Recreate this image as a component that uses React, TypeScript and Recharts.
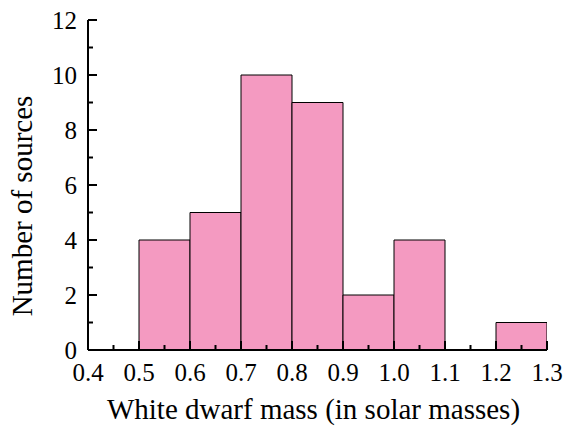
import { Bar, ComposedChart, Label, XAxis, YAxis } from "recharts"

const binCenters = [0.55, 0.65, 0.75, 0.85, 0.95, 1.05, 1.15, 1.25]
const sourceCounts = [4, 5, 10, 9, 2, 4, 0, 1]

const xTicks = [
  0.4, 0.45, 0.5, 0.55, 0.6, 0.65, 0.7, 0.75, 0.8, 0.85, 0.9, 0.95, 1.0, 1.05,
  1.1, 1.15, 1.2, 1.25, 1.3,
]
const yTicks = [0, 1, 2, 3, 4, 5, 6, 7, 8, 9, 10, 11, 12]

const xTitle = "White dwarf mass (in solar masses)"
const yTitle = "Number of sources"

const data = binCenters.map((mass, i) => ({ mass, count: sourceCounts[i] }))

const FONT = "'Liberation Serif', 'Times New Roman', serif"
const MAJOR = 9
const MINOR = 5

const BottomTick = (props: any) => {
  const { x, y, index, payload } = props
  const major = index % 2 === 0
  return (
    <g>
      <line x1={x} x2={x} y1={y} y2={y - (major ? MAJOR : MINOR)} stroke="#000" strokeWidth={2} />
      {major && (
        <text x={x} y={y + 31} textAnchor="middle" fontSize={25} fontFamily={FONT} fill="#000">
          {payload.value.toFixed(1)}
        </text>
      )}
    </g>
  )
}

const TopTick = (props: any) => {
  const { x, y, index } = props
  const major = index % 2 === 0
  return <line x1={x} x2={x} y1={y} y2={y + (major ? MAJOR : MINOR)} stroke="#000" strokeWidth={2} />
}

const LeftTick = (props: any) => {
  const { x, y, index, payload } = props
  const major = index % 2 === 0
  return (
    <g>
      <line x1={x} x2={x + (major ? MAJOR : MINOR)} y1={y} y2={y} stroke="#000" strokeWidth={2} />
      {major && (
        <text x={x - 11} y={y + 9} textAnchor="end" fontSize={25} fontFamily={FONT} fill="#000">
          {payload.value}
        </text>
      )}
    </g>
  )
}

const RightTick = (props: any) => {
  const { x, y, index } = props
  const major = index % 2 === 0
  return <line x1={x} x2={x - (major ? MAJOR : MINOR)} y1={y} y2={y} stroke="#000" strokeWidth={2} />
}

const axisLine = { stroke: "#000", strokeWidth: 2 }

export default function App() {
  return (
    <div>
      <style>{"body{margin:0}"}</style>
      <ComposedChart
        width={575}
        height={429}
        data={data}
        margin={{ top: 20, right: 28, bottom: 0, left: 0 }}
        barCategoryGap={0}
        barGap={0}
      >
        <Bar
          dataKey="count"
          fill="#f49ac1"
          stroke="#000"
          strokeWidth={1}
          isAnimationActive={false}
        />
        <XAxis
          dataKey="mass"
          type="number"
          domain={[0.4, 1.3]}
          ticks={xTicks}
          interval={0}
          height={79}
          tickSize={0}
          tickMargin={0}
          tickLine={false}
          axisLine={axisLine}
          tick={BottomTick}
          allowDataOverflow
        >
          <Label
            content={() => (
              <text x={313.5} y={419} textAnchor="middle" fontSize={29} fontFamily={FONT} fill="#000">
                {xTitle}
              </text>
            )}
          />
        </XAxis>
        <XAxis
          xAxisId="top"
          orientation="top"
          type="number"
          domain={[0.4, 1.3]}
          ticks={xTicks}
          interval={0}
          height={0}
          tickSize={0}
          tickMargin={0}
          tickLine={false}
          axisLine={axisLine}
          tick={TopTick}
          allowDataOverflow
        />
        <YAxis
          type="number"
          domain={[0, 12]}
          ticks={yTicks}
          interval={0}
          width={88}
          tickSize={0}
          tickMargin={0}
          tickLine={false}
          axisLine={axisLine}
          tick={LeftTick}
          allowDataOverflow
        >
          <Label
            content={() => (
              <text
                x={31.5}
                y={206}
                transform="rotate(-90, 31.5, 206)"
                textAnchor="middle"
                fontSize={29}
                fontFamily={FONT}
                fill="#000"
              >
                {yTitle}
              </text>
            )}
          />
        </YAxis>
        <YAxis
          yAxisId="right"
          orientation="right"
          type="number"
          domain={[0, 12]}
          ticks={yTicks}
          interval={0}
          width={0}
          tickSize={0}
          tickMargin={0}
          tickLine={false}
          axisLine={axisLine}
          tick={RightTick}
          allowDataOverflow
        />
      </ComposedChart>
    </div>
  )
}
